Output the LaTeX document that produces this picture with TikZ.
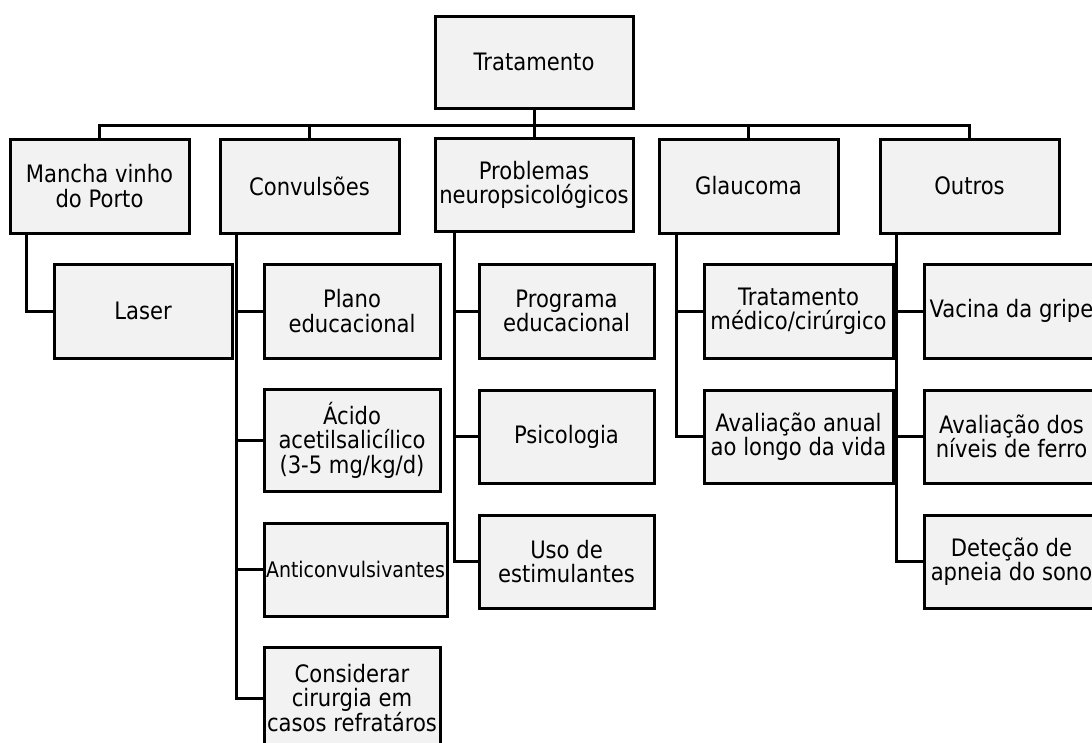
\documentclass[tikz,border=0pt]{standalone}
\usepackage{fontspec}
\setmainfont{DejaVu Sans}[FakeStretch=0.88]
\definecolor{boxfill}{HTML}{F2F2F2}
\begin{document}
\begin{tikzpicture}[x=1pt,y=-1pt,
  box/.style={draw=black, line width=3pt, fill=boxfill, inner sep=0pt,
    align=center, font=\fontsize{24}{24.5}\selectfont},
  topbox/.style={box, minimum width=179, minimum height=94},
  conn/.style={draw=black, line width=3pt}]
\useasboundingbox (0,0) rectangle (1092,742);
\clip (0,0) rectangle (1092,742);
% root
\node[box, minimum width=198, minimum height=92] (trat) at (534,62) {Tratamento};
% level 1
\node[topbox] (mancha) at (99.5,186) {Mancha vinho\\do Porto};
\node[topbox] (conv) at (309.5,186) {Convulsões};
\node[box, minimum width=198, minimum height=93] (prob) at (534,185) {Problemas\\neuropsicológicos};
\node[topbox] (glau) at (748.5,186) {Glaucoma};
\node[topbox] (outros) at (969.5,186) {Outros};
% level 2: Mancha
\node[box, minimum width=178, minimum height=94] (laser) at (143,311) {Laser};
% Convulsoes
\node[box, minimum width=176, minimum height=94] (plano) at (352,311) {Plano\\educacional};
\node[box, minimum width=176, minimum height=102] (acido) at (352,440) {Ácido\\acetilsalicílico\\(3-5 mg/kg/d)};
\node[box, minimum width=183, minimum height=93, font=\fontsize{21.5}{22}\selectfont] (anti) at (355.5,569.5) {Anticonvulsivantes};
\node[box, minimum width=176, minimum height=102] (cirur) at (352,698) {Considerar\\cirurgia em\\casos refratáros};
% Problemas
\node[box, minimum width=175, minimum height=94] (progr) at (566.5,311) {Programa\\educacional};
\node[box, minimum width=175, minimum height=93] (psico) at (566.5,436.5) {Psicologia};
\node[box, minimum width=175, minimum height=93] (estim) at (566.5,561.5) {Uso de\\estimulantes};
% Glaucoma
\node[box, minimum width=189, minimum height=94] (medcir) at (798.5,311) {Tratamento\\médico/cirúrgico};
\node[box, minimum width=189, minimum height=93] (anual) at (798.5,436.5) {Avaliação anual\\ao longo da vida};
% Outros
\node[box, minimum width=175, minimum height=94] (vacina) at (1011.5,311) {Vacina da gripe};
\node[box, minimum width=175, minimum height=93] (ferro) at (1011.5,436.5) {Avaliação dos\\níveis de ferro};
\node[box, minimum width=175, minimum height=93] (apneia) at (1011.5,561.5) {Deteção de\\apneia do sono};
% connectors root -> level 1
\draw[conn] (trat.south) -- ++(0,16) -| (mancha.north);
\draw[conn] (trat.south) -- ++(0,16) -| (conv.north);
\draw[conn] (trat.south) -- (prob.north);
\draw[conn] (trat.south) -- ++(0,16) -| (glau.north);
\draw[conn] (trat.south) -- ++(0,16) -| (outros.north);
% level 1 -> level 2
\draw[conn] ([xshift=18pt]mancha.south west) |- (laser.west);
\draw[conn] ([xshift=18pt]conv.south west) |- (plano.west);
\draw[conn] ([xshift=18pt]conv.south west) |- (acido.west);
\draw[conn] ([xshift=18pt]conv.south west) |- (anti.west);
\draw[conn] ([xshift=18pt]conv.south west) |- (cirur.west);
\draw[conn] ([xshift=21pt]prob.south west) |- (progr.west);
\draw[conn] ([xshift=21pt]prob.south west) |- (psico.west);
\draw[conn] ([xshift=21pt]prob.south west) |- (estim.west);
\draw[conn] ([xshift=19pt]glau.south west) |- (medcir.west);
\draw[conn] ([xshift=19pt]glau.south west) |- (anual.west);
\draw[conn] ([xshift=18pt]outros.south west) |- (vacina.west);
\draw[conn] ([xshift=18pt]outros.south west) |- (ferro.west);
\draw[conn] ([xshift=18pt]outros.south west) |- (apneia.west);
\end{tikzpicture}
\end{document}
